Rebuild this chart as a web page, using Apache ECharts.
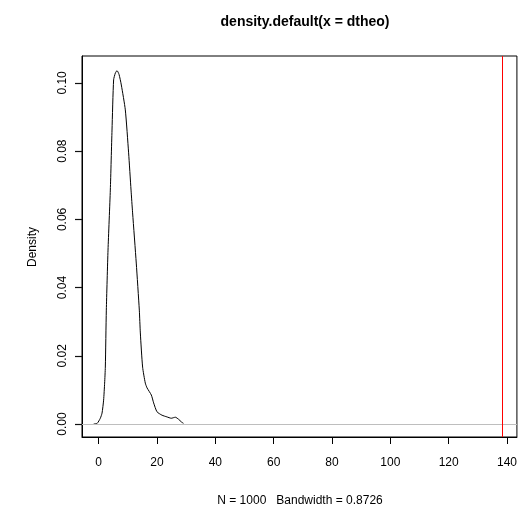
<!DOCTYPE html>
<html><head><meta charset="utf-8">
<script src="https://cdn.jsdelivr.net/npm/echarts@6/dist/echarts.min.js"></script>
<style>html,body{margin:0;padding:0;background:#fff}#c{width:520px;height:511px}</style>
</head><body><div id="c"></div>
<script>
const densX = [-1.7, -0.5, 0.58, 1.17, 1.71, 2.06, 2.3, 2.64, 3.22, 4.01, 4.59, 5.14, 5.73, 6.31, 7.0, 7.78, 9.15, 10.28, 11.11, 11.65, 12.9, 13.95, 14.3, 15.08, 16.0, 16.6, 18.07, 18.86, 20.0, 21.7, 23.4, 24.9, 26.3, 27.4, 28.4, 29.1];
const densY = [0, 0.0002, 0.0017, 0.0032, 0.007, 0.012, 0.0167, 0.0334, 0.051, 0.0686, 0.0862, 0.1009, 0.1029, 0.1036, 0.1025, 0.0994, 0.0921, 0.0795, 0.0686, 0.0619, 0.0472, 0.0334, 0.0267, 0.0167, 0.012, 0.0106, 0.0085, 0.0062, 0.0036, 0.0026, 0.0021, 0.0017, 0.002, 0.0014, 0.0006, 0.0002];
const xTicks = [0, 20, 40, 60, 80, 100, 120, 140];
const yTicks = [0, 0.02, 0.04, 0.06, 0.08, 0.10];
const observed = 138.5;
const titleText = 'density.default(x = dtheo)';
const subText = 'N = 1000   Bandwidth = 0.8726';
const yName = 'Density';

const chart = echarts.init(document.getElementById('c'));
const font = 'Liberation Sans, Arial, Helvetica, sans-serif';
chart.setOption({
  animation: false,
  textStyle: { fontFamily: font, fontSize: 12, color: '#000' },
  title: { text: titleText, left: 300, top: 10, textAlign: 'center',
    textStyle: { fontFamily: font, fontSize: 14, fontWeight: 'bold', color: '#000' } },
  graphic: [
    { type: 'text', x: 300, y: 501, style: { text: subText, font: '12px ' + font, fill: '#000', align: 'center', verticalAlign: 'middle' } },
    { type: 'text', x: 33, y: 247, rotation: Math.PI / 2, style: { text: yName, font: '12px ' + font, fill: '#000', align: 'center', verticalAlign: 'middle' } }
  ],
  grid: { left: 82, right: 3, top: 56, bottom: 74, show: true, borderColor: '#000', borderWidth: 1 },
  xAxis: { type: 'value', min: -5.7, max: 143.4,
    axisLine: { onZero: false, lineStyle: { color: '#000' } }, splitLine: { show: false },
    axisTick: { length: 7, customValues: xTicks, lineStyle: { color: '#000' } },
    axisLabel: { customValues: xTicks, margin: 20, fontFamily: font, fontSize: 12, color: '#000' } },
  yAxis: { type: 'value', min: -0.0038, max: 0.1079,
    axisLine: { show: true, onZero: false, lineStyle: { color: '#000' } }, splitLine: { show: false },
    axisTick: { show: true, length: 7, customValues: yTicks, lineStyle: { color: '#111', width: 1.2 } },
    axisLabel: { customValues: yTicks, rotate: 90, margin: 13, color: '#000', formatter: v => v.toFixed(2) } },
  series: [{
    type: 'line', showSymbol: false, smooth: 0.2,
    data: densX.map((x, i) => [x, densY[i]]),
    lineStyle: { color: '#000', width: 1 },
    markLine: { silent: true, symbol: 'none', label: { show: false },
      data: [
        { yAxis: 0, lineStyle: { color: '#bebebe', width: 1, type: 'solid' } },
        { xAxis: observed, lineStyle: { color: '#ff0000', width: 1, type: 'solid' } }
      ] }
  }]
});
</script></body></html>
